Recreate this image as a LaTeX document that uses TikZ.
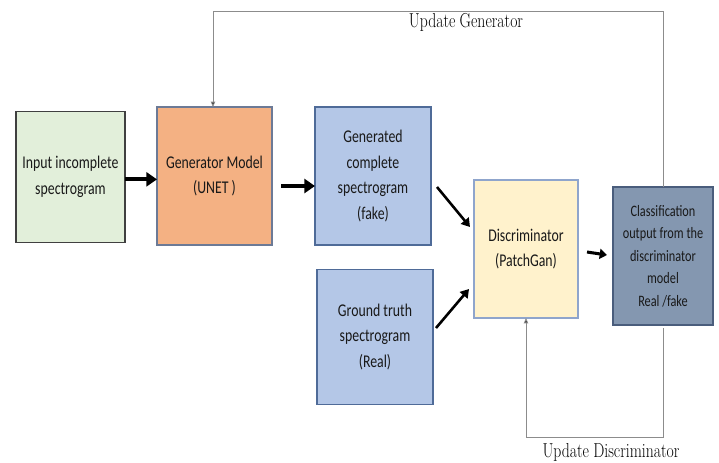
\documentclass[tikz,border=0pt]{standalone}
\usepackage{fontspec}
\usepackage{tikz}
\usetikzlibrary{shapes,arrows,arrows.meta,calc,positioning,backgrounds}
\newfontfamily\boxfont[FakeStretch=0.77]{Carlito}
\newfontfamily\labelfont[FakeStretch=0.78]{Latin Modern Roman}

\definecolor{inpfill}{HTML}{E2EFDA}
\definecolor{genfill}{HTML}{F4B183}
\definecolor{bluefill}{HTML}{B4C7E7}
\definecolor{discfill}{HTML}{FFF2CC}
\definecolor{clsfill}{HTML}{8497B0}
\definecolor{inpline}{HTML}{404040}
\definecolor{genline}{HTML}{6C7A96}
\definecolor{blueline}{HTML}{4F6B98}
\definecolor{discline}{HTML}{8FA5CC}
\definecolor{clsline}{HTML}{4A5D7C}
\definecolor{loopline}{HTML}{8C8C8C}

\tikzset{
  block/.style={rectangle, draw, line width=1.2pt, inner sep=0pt, outer sep=0pt, align=center,
    font=\boxfont\fontsize{15.3}{21.8}\selectfont, text=black!90,
    execute at begin node={\spaceskip=2.7pt\relax}},
  bigarrow/.style={line width=3.6pt, -{Triangle[length=0.32cm, width=0.42cm]}},
  diagarrow/.style={line width=2.2pt, -{Triangle[length=0.25cm, width=0.3cm]}},
  loopline/.style={draw=loopline, line width=0.8pt, -{Triangle[length=0.16cm, width=0.13cm, fill=black]}},
  looplabel/.style={font=\labelfont\fontsize{17.2}{18}\selectfont, inner sep=0pt,
    execute at begin node={\spaceskip=3.6pt\relax}}
}

\begin{document}
\begin{tikzpicture}[x=0.03cm, y=-0.03cm]
  \useasboundingbox (0,0) rectangle (719,462);

  % blocks
  \node[block, fill=inpfill, draw=inpline, minimum width=3.27cm, minimum height=3.93cm, text width=3.1cm] (inp) at (70.5,177) {Input incomplete\\spectrogram};
  \node[block, fill=genfill, draw=genline, minimum width=3.45cm, minimum height=4.14cm, text width=3.3cm] (gen) at (214.5,176) {Generator Model\\(UNET )};
  \node[block, fill=bluefill, draw=blueline, minimum width=3.48cm, minimum height=4.14cm, text width=3.3cm] (fake) at (373,176) {Generated\\complete\\spectrogram\\(fake)};
  \node[block, fill=bluefill, draw=blueline, minimum width=3.48cm, minimum height=4.05cm, text width=3.3cm] (real) at (375,337) {Ground truth\\spectrogram\\(Real)};
  \node[block, fill=discfill, draw=discline, minimum width=3.12cm, minimum height=4.14cm, text width=3.0cm] (disc) at (526,249) {Discriminator\\(PatchGan)};
  \node[block, fill=clsfill, draw=clsline, minimum width=3.0cm, minimum height=4.14cm, text width=2.9cm,
        font=\boxfont\fontsize{13.6}{19.2}\selectfont, execute at begin node={\spaceskip=2.4pt\relax}] (cls) at (663,256) {Classification\\output from the\\discriminator\\model\\Real /fake};

  % forward arrows
  \draw[bigarrow] ([yshift=-2]inp.east) -- ([yshift=-2]inp.east -| gen.west);
  \draw[bigarrow] ([shift={(9,10)}]gen.east) -- ([shift={(0,10)}]fake.west);
  \draw[diagarrow] ([shift={(6,11)}]fake.east) -- ([shift={(-4,-22)}]disc.west);
  \draw[diagarrow] ([shift={(3,-9)}]real.east) -- ([shift={(-5,40)}]disc.west);
  \draw[line width=2.6pt, -{Triangle[length=0.22cm, width=0.3cm]}] ([shift={(9,3)}]disc.east) -- ([shift={(-6,-1)}]cls.west);

  % update loops
  \coordinate (topline) at (0,11);
  \coordinate (botline) at (0,437);
  \draw[loopline] (cls.north) -- (cls.north |- topline) -| ([shift={(-1.5,0)}]gen.north);
  \draw[loopline] ([shift={(0,3)}]cls.south) -- (cls.south |- botline) -| (disc.south);
  \node[looplabel] (lblgen) at (466,22) {Update Generator};
  \node[looplabel] (lbldisc) at (611,452) {Update Discriminator};
\end{tikzpicture}
\end{document}
